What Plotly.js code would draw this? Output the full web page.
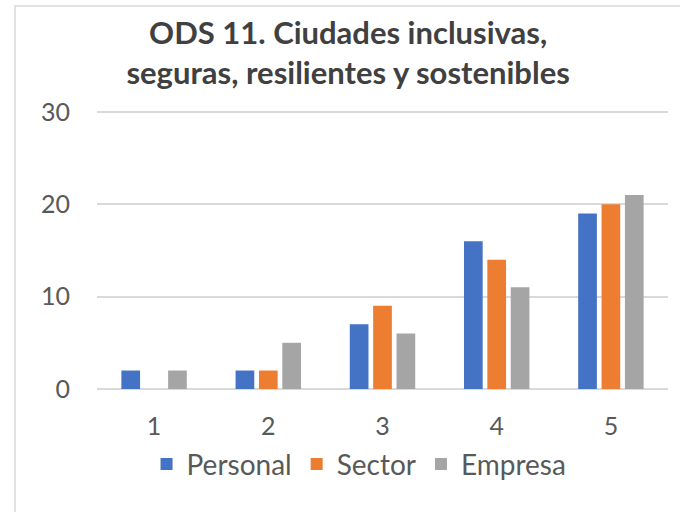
<!DOCTYPE html>
<html><head><meta charset="utf-8">
<script src="https://cdn.plot.ly/plotly-3.0.1.min.js"></script>
<style>html,body{margin:0;padding:0;background:#fff}</style>
</head><body>
<div id="chart" style="width:680px;height:512px"></div>
<script>
const categories = ["1", "2", "3", "4", "5"];
const personal = [2, 2, 7, 16, 19];
const sector = [0, 2, 9, 14, 20];
const empresa = [2, 5, 6, 11, 21];
const yTicks = [0, 10, 20, 30];

const font = "Lato, 'Open Sans', sans-serif";
const traces = [
  {type: "bar", name: "Personal", x: categories, y: personal, marker: {color: "#4472C4"}},
  {type: "bar", name: "Sector", x: categories, y: sector, marker: {color: "#ED7D31"}},
  {type: "bar", name: "Empresa", x: categories, y: empresa, marker: {color: "#A5A5A5"}}
];
const layout = {
  width: 680, height: 512,
  margin: {l: 97, r: 12, t: 109, b: 123},
  paper_bgcolor: "#fff", plot_bgcolor: "#fff",
  font: {family: font, color: "#595959", size: 20},
  title: {
    text: "<b>ODS 11. Ciudades inclusivas,<br>seguras, resilientes y sostenibles</b>",
    font: {family: font, size: 31, color: "#404040"},
    x: 0.512, xref: "container", xanchor: "center",
    y: 0.914, yref: "container", yanchor: "top"
  },
  barmode: "group", bargap: 0.386, bargroupgap: 0.2,
  xaxis: {type: "category", showgrid: false, zeroline: false, showline: false,
          ticks: "", tickfont: {size: 25, color: "#595959"}, ticklabelstandoff: 20},
  yaxis: {range: [0, 30.3], tickvals: yTicks, showgrid: true, gridcolor: "#d9d9d9", gridwidth: 1.5,
          zeroline: true, zerolinecolor: "#d9d9d9", zerolinewidth: 1.5, showline: false,
          ticks: "", tickfont: {size: 25, color: "#595959"}, ticklabelstandoff: 26},
  legend: {orientation: "h", x: 0.528, xref: "container", xanchor: "center",
           y: 0.093, yref: "container", yanchor: "middle",
           font: {size: 28, color: "#595959"}, itemwidth: 30, tracegroupgap: 0},
  showlegend: true,
  shapes: [
    {type: "rect", xref: "paper", yref: "paper",
     x0: (15 - 97) / 571, x1: (690 - 97) / 571,
     y0: (123 - 510) / 280, y1: (512 - 6 - 123) / 280,
     line: {color: "#d9d9d9", width: 1.5}, fillcolor: "rgba(0,0,0,0)", layer: "below"}
  ]
};
Plotly.newPlot("chart", traces, layout, {displayModeBar: false});
</script>
</body></html>
